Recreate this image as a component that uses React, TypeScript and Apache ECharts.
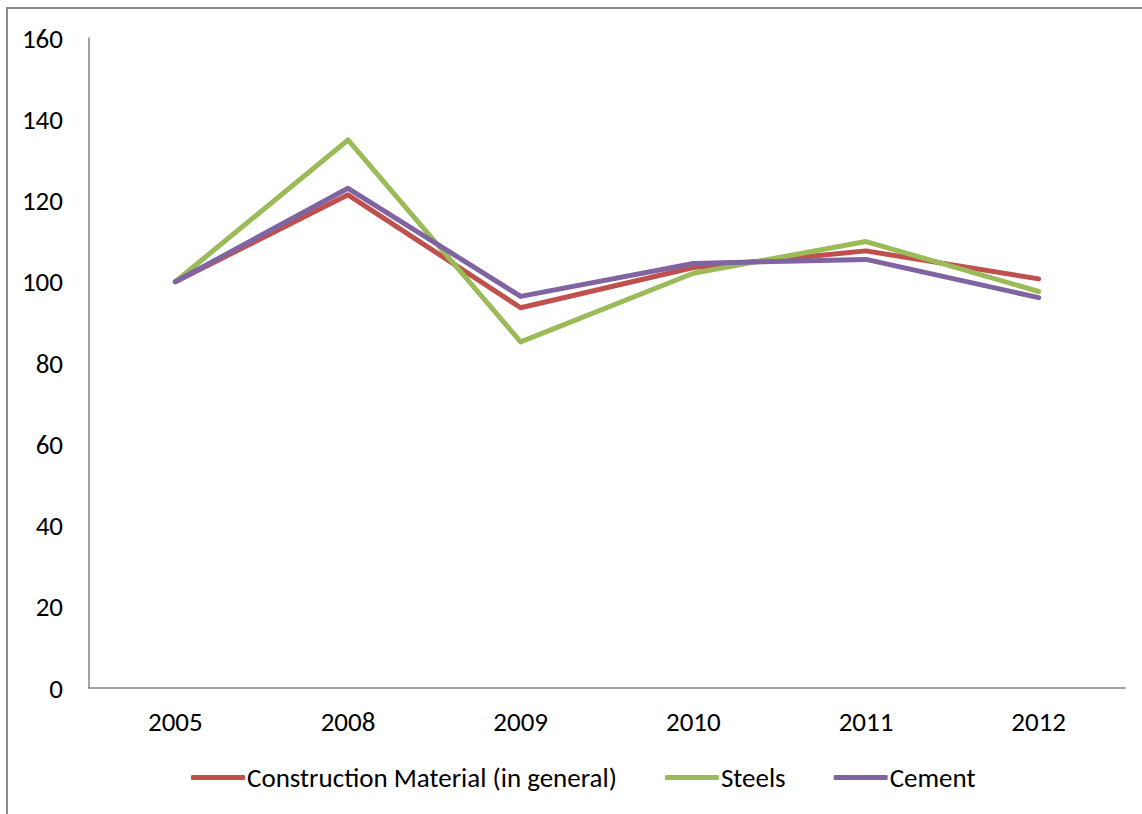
import React, { useEffect, useRef } from "react";
import * as echarts from "echarts";

const categories = ["2005", "2008", "2009", "2010", "2011", "2012"];
const construction = [100, 121.4, 93.6, 103.5, 107.6, 100.7];
const steels = [100, 134.9, 85.2, 102.1, 109.9, 97.6];
const cement = [100, 123.0, 96.4, 104.5, 105.5, 96.1];
const seriesNames = ["Construction Material (in general)", "Steels", "Cement"];
const colors = ["#C0504D", "#9BBB59", "#8064A2"];

const FONT = "Carlito, Calibri, 'Open Sans', sans-serif";

export default function App() {
  const ref = useRef<HTMLDivElement>(null);
  useEffect(() => {
    document.body.style.margin = "0";
    const chart = echarts.init(ref.current!, null, { renderer: "svg" });
    const mk = (name: string, data: number[], color: string) => ({
      name,
      type: "line",
      data,
      symbol: "none",
      color,
      lineStyle: { width: 5, color, cap: "round", join: "round" },
    });
    chart.setOption({
      animation: false,
      backgroundColor: "#ffffff",
      textStyle: { fontFamily: FONT },
      graphic: [
        {
          type: "rect",
          shape: { x: 7, y: 8, width: 1300, height: 1000 },
          style: { fill: "none", stroke: "#8a8a8a", lineWidth: 2 },
          silent: true,
        },
      ],
      grid: { left: 89, right: 17, top: 38, bottom: 126 },
      legend: {
        top: 759,
        left: 186,
        itemWidth: 54,
        itemHeight: 5,
        itemGap: 48,
        icon: "roundRect",
        textStyle: { fontSize: 27, color: "#000", fontFamily: FONT, padding: [0, 0, 0, -3] },
        data: seriesNames,
      },
      xAxis: {
        type: "category",
        data: categories,
        boundaryGap: true,
        axisLine: { lineStyle: { color: "#868686", width: 1.5 } },
        axisTick: { show: false },
        axisLabel: { fontSize: 27, color: "#000", margin: 20, fontFamily: FONT },
      },
      yAxis: {
        type: "value",
        min: 0,
        max: 160,
        interval: 20,
        axisLine: { show: true, lineStyle: { color: "#868686", width: 1.5 } },
        axisTick: { show: false },
        splitLine: { show: false },
        axisLabel: { fontSize: 27, color: "#000", margin: 26, fontFamily: FONT },
      },
      series: [
        mk(seriesNames[0], construction, colors[0]),
        mk(seriesNames[1], steels, colors[1]),
        mk(seriesNames[2], cement, colors[2]),
      ],
    });
    return () => chart.dispose();
  }, []);
  return <div ref={ref} style={{ width: 1142, height: 814 }} />;
}
